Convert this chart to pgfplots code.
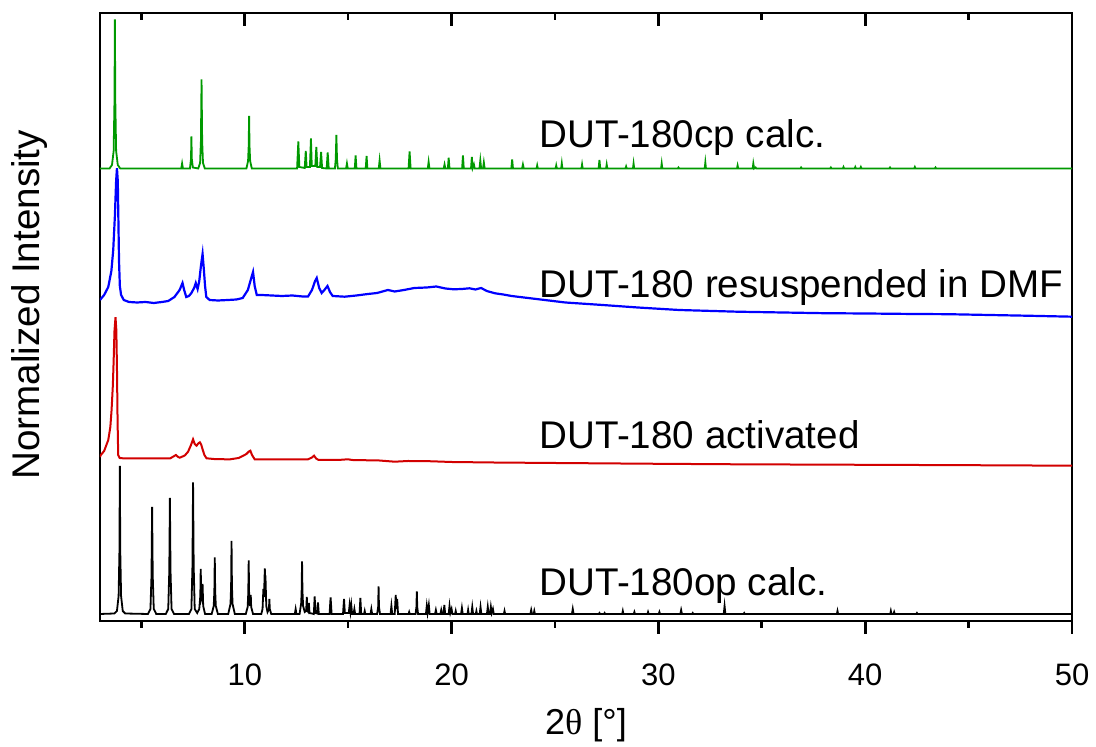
\documentclass[border=0pt]{standalone}
\usepackage{fontspec}
\setmainfont{Liberation Sans}
\newfontfamily\greekserif{Liberation Serif}
\usepackage{pgfplots}
\pgfplotsset{compat=1.18}
\usetikzlibrary{calc}
\definecolor{cgreen}{RGB}{0,153,0}
\definecolor{cblue}{RGB}{0,0,255}
\definecolor{cred}{RGB}{210,0,0}

\pgfplotstableread{
x y
3.00 7
3.70 7.5
3.82 10
3.90 25
3.94 70
3.96 155
3.98 70
4.02 25
4.10 10
4.22 7.5
5.32 7
5.44 12
5.49 45
5.52 114
5.55 45
5.60 12
5.72 7
6.18 7
6.30 12
6.35 50
6.38 123
6.41 50
6.46 12
6.58 7
7.30 7
7.42 12
7.47 55
7.50 138.6
7.53 55
7.58 12
7.70 8
7.80 12
7.85 25
7.87 52
7.90 22
7.94 25
7.96 37
7.99 15
8.08 7
8.40 7
8.50 15
8.53 30
8.55 63.6
8.57 30
8.60 15
8.70 7
9.20 7
9.31 17
9.34 35
9.36 80
9.38 35
9.41 17
9.52 7
10.05 7
10.14 14
10.17 28
10.19 60.6
10.21 28
10.25 15
10.29 26
10.31 14
10.40 7
10.80 7
10.86 12
10.90 32
10.93 24
10.97 52.6
10.99 36
11.01 38
11.04 15
11.10 9
11.17 12
11.19 22
11.21 12
11.28 7
12.42 7
12.46 12
12.50 7
12.65 7
12.73 18
12.75 30
12.77 59.6
12.79 30
12.82 15
12.90 9
12.97 10
13.00 24
13.03 10
13.07 9
13.10 18
13.13 8
13.34 7
13.38 24.6
13.42 8
13.50 7.5
13.54 18.6
13.58 7
14.10 7
14.15 23.6
14.20 7
14.75 7
14.80 22
14.84 8
15.03 8
15.07 16
15.11 9
15.15 16
15.19 7
15.26 7
15.30 12
15.34 7
15.55 7
15.59 23
15.63 7
15.77 7
15.80 10
15.83 7
16.08 7
16.12 12
16.16 7
16.40 7
16.45 14
16.47 34.6
16.49 14
16.54 7
17.05 7
17.09 15
17.13 7
17.25 7
17.30 26
17.33 12
17.37 22
17.41 7
17.92 7
17.95 9
17.98 7
18.26 7
18.30 14
18.32 29.6
18.34 14
18.38 7
18.76 7
18.80 15
18.84 8
18.90 16
18.94 7
19.20 7
19.24 11
19.28 7
19.46 7
19.50 11
19.54 7
19.61 7
19.65 16
19.69 7
19.86 7
19.90 15
19.94 8
20.00 12
20.04 7
20.17 7
20.20 10
20.23 7
20.46 7
20.50 13
20.54 7
20.77 7
20.80 11
20.83 7
20.96 7
21.00 14
21.04 7
21.17 7
21.20 10
21.23 7
21.36 7
21.40 14
21.44 7
21.71 7
21.75 14
21.79 7
21.86 7
21.90 14
21.94 8
22.00 12
22.04 7
22.53 7
22.56 10
22.59 7
23.81 7
23.85 11
23.89 7
23.97 7
24.00 10
24.03 7
25.82 7
25.86 12
25.90 7
27.12 7
27.15 8
27.18 7
27.37 7
27.40 8
27.43 7
28.25 7
28.28 10
28.31 7
28.81 7
28.84 9
28.87 7
29.47 7
29.50 9
29.53 7
30.02 7
30.05 9
30.08 7
31.06 7
31.10 11
31.14 7
31.63 7
31.66 8
31.69 7
33.16 7
33.20 15
33.24 7
34.12 7
34.15 8
34.18 7
38.63 7
38.66 10
38.69 7
41.21 7
41.24 10
41.27 7
41.37 7
41.40 9
41.43 7
42.47 7
42.50 8
42.53 7
50.00 7
}\opcalc

\pgfplotstableread{
x y
3.00 164
3.04 166
3.20 170
3.40 181
3.50 194
3.56 211
3.62 235
3.66 260
3.70 290
3.75 303.7
3.79 291
3.82 254
3.85 200
3.88 166
3.95 163
4.20 162.5
5.00 162.7
6.00 162.5
6.40 162.7
6.55 164.5
6.67 166
6.78 164
6.86 163.3
7.10 165.5
7.26 169.3
7.40 176
7.50 181.7
7.58 177
7.67 175.3
7.75 177.5
7.83 178.7
7.90 176
7.97 171
8.05 166
8.15 162.7
8.60 161.8
9.30 161.7
9.70 163
9.90 165
10.08 167
10.20 169.5
10.27 170.3
10.35 166
10.48 161.7
11.50 161.5
12.50 161.5
13.06 161.7
13.25 163.5
13.35 165.3
13.45 162.5
13.57 161
14.50 161
14.99 161.7
15.20 161
16.50 160.5
17.25 159.3
17.90 160
18.90 159.8
20.00 159
22.00 158.5
25.00 158
30.00 157.2
33.80 156.7
40.00 156.2
45.00 155.8
50.00 155.3
}\activated

\pgfplotstableread{
x y
3.00 321
3.20 326
3.40 334
3.55 350
3.64 371
3.72 405
3.78 440
3.82 452.7
3.86 440
3.89 400
3.92 360
3.96 335
4.02 326
4.15 321
4.40 319
4.80 318.5
5.20 319
5.60 318
6.00 319
6.30 320
6.60 324
6.85 331
6.99 338
7.07 331
7.17 324
7.30 325
7.42 328
7.55 333
7.63 338
7.72 332
7.80 340
7.88 355
7.96 367
8.02 352
8.08 335
8.14 324
8.30 321
8.70 320.5
9.20 321
9.60 321.5
9.90 323
10.15 331
10.30 342
10.40 349
10.48 335
10.58 326
10.80 326
11.30 325.5
11.80 325
12.30 325.5
12.80 324.5
13.06 324.5
13.25 331
13.40 340
13.48 343
13.60 333
13.72 328
13.85 331
14.00 335
14.12 329
14.25 325
14.83 324.3
15.40 325.5
15.96 327
16.40 328
16.92 331
17.25 329.5
17.70 331
18.20 333
18.80 333.5
19.26 334.5
19.70 332.5
20.10 331.7
20.50 332
20.87 332.7
21.15 331.5
21.43 333
21.70 330
22.10 327.7
22.50 326.5
22.90 325
23.70 323
24.50 321
25.50 318.5
27.30 316
29.00 313.5
31.00 311
33.80 309.3
36.00 308.5
38.00 307.8
40.00 307.5
42.40 307
44.00 306.8
46.00 306
48.00 305.2
50.00 304.3
}\resusp

\pgfplotstableread{
x y
3.00 452.5
3.46 452.5
3.58 456
3.66 470
3.70 520
3.72 601.5
3.74 520
3.78 470
3.86 456
3.98 452.5
6.93 452.5
6.97 457.5
7.01 452.5
7.35 452.5
7.40 462
7.42 484.5
7.44 462
7.49 453.5
7.75 452.5
7.84 458
7.88 480
7.91 541.5
7.94 480
7.98 458
8.07 452.5
10.08 452.5
10.16 460
10.19 475
10.21 505.1
10.23 475
10.26 460
10.34 452.5
12.53 452.5
12.59 479.5
12.64 454
12.90 453
12.95 470.1
12.99 454
13.15 454
13.20 482.5
13.24 455
13.41 455
13.46 474.1
13.51 454
13.64 454
13.69 469.1
13.74 453
13.96 452.5
14.01 468.5
14.06 452.5
14.36 452.5
14.40 462
14.43 486.1
14.46 462
14.50 452.5
14.90 452.5
14.94 457.5
14.98 452.5
15.32 452.5
15.36 465.5
15.40 452.5
15.85 452.5
15.89 465.1
15.93 452.5
16.48 452.5
16.52 460.5
16.56 452.5
17.92 452.5
17.97 469.5
18.02 452.5
18.85 452.5
18.89 459.1
18.93 452.5
19.62 452.5
19.66 456.5
19.70 452.5
19.82 452.5
19.86 463.2
19.90 452.5
20.51 452.5
20.55 465.5
20.59 452.5
20.94 452.5
20.98 464.1
21.02 453
21.08 456.5
21.12 452.5
21.35 452.5
21.39 460.5
21.43 452.5
21.52 452.5
21.56 458.5
21.60 452.5
22.89 452.5
22.93 461.5
22.97 452.5
23.41 452.5
23.45 456.5
23.49 452.5
24.11 452.5
24.14 455.5
24.17 452.5
25.03 452.5
25.06 455.5
25.09 452.5
25.30 452.5
25.33 457.5
25.36 452.5
26.28 452.5
26.31 456.5
26.34 452.5
27.11 452.5
27.15 461.1
27.19 452.5
27.47 452.5
27.50 456.5
27.53 452.5
28.41 452.5
28.44 454.5
28.47 452.5
28.77 452.5
28.80 457.5
28.83 452.5
30.13 452.5
30.16 457.5
30.19 452.5
30.94 452.5
30.97 453.5
31.00 452.5
32.24 452.5
32.27 458.5
32.30 452.5
33.80 452.5
33.83 455.5
33.86 452.5
34.56 452.5
34.59 457.5
34.63 452.5
34.70 453.5
34.73 452.5
36.87 452.5
36.90 453.5
36.93 452.5
38.31 452.5
38.34 453.5
38.37 452.5
38.92 452.5
38.95 454
38.98 452.5
39.49 452.5
39.52 454
39.55 452.5
39.76 452.5
39.79 454
39.82 452.5
41.17 452.5
41.20 453.5
41.23 452.5
42.37 452.5
42.40 454
42.43 452.5
43.37 452.5
43.40 453.5
43.43 452.5
50.00 452.5
}\cpcalc

\begin{document}
\begin{tikzpicture}
\begin{axis}[
  name=topt,
  width=486pt, height=304pt, scale only axis,
  xmin=3, xmax=50, ymin=0, ymax=608,
  xtick pos=upper, ytick=\empty,
  xtick={10,20,30,40,50}, minor xtick={5,15,25,35,45},
  xticklabels={}, tick align=inside,
  major tick length=6.5pt, minor tick length=3.5pt,
  every tick/.append style={line width=1.3pt, black},
  axis line style={line width=1.3pt},
]
\addplot[draw=none] coordinates {(3,0) (50,608)};
\end{axis}
\begin{axis}[
  name=main,
  at={(topt.south west)}, anchor=south west,
  width=486pt, height=304pt, scale only axis,
  xmin=3, xmax=50, ymin=0, ymax=608,
  xtick={10,20,30,40,50}, minor xtick={5,15,25,35,45},
  ytick=\empty,
  xtick pos=lower, tick align=outside,
  major tick length=6.5pt, minor tick length=3.5pt,
  every tick/.append style={line width=1.3pt, black},
  axis line style={line width=1.3pt},
  /pgf/number format/assume math mode=true,
  xticklabel style={font=\fontsize{15.5}{18}\selectfont, anchor=base, yshift=-26pt},
  xlabel={2{\greekserif θ} [°]},
  ylabel={Normalized Intensity},
  xlabel style={font=\fontsize{18}{21}\selectfont, at={(axis description cs:0.5,-0.1875)}, anchor=base},
  ylabel style={font=\fontsize{19.3}{22}\selectfont, at={(axis description cs:-0.072,0.52)}, anchor=center},
  clip=true,
]
\addplot[black, line width=0.9pt] table[x=x,y=y] {\opcalc};
\addplot[cred, line width=1pt] table[x=x,y=y] {\activated};
\addplot[cblue, line width=1.1pt] table[x=x,y=y] {\resusp};
\addplot[cgreen, line width=0.9pt] table[x=x,y=y] {\cpcalc};
\node[anchor=base west, inner sep=0pt, font=\fontsize{19.3}{22}\selectfont] at (axis cs:24.25,473) {DUT-180cp calc.};
\node[anchor=base west, inner sep=0pt, font=\fontsize{19.3}{22}\selectfont] at (axis cs:24.25,323) {DUT-180 resuspended in DMF};
\node[anchor=base west, inner sep=0pt, font=\fontsize{19.3}{22}\selectfont] at (axis cs:24.25,172) {DUT-180 activated};
\node[anchor=base west, inner sep=0pt, font=\fontsize{19.3}{22}\selectfont] at (axis cs:24.25,25) {DUT-180op calc.};
\end{axis}
\pgfresetboundingbox
\useasboundingbox ($(main.south west)+(-50pt,-63pt)$) rectangle ($(main.north east)+(12pt,6.5pt)$);
\end{tikzpicture}
\end{document}
